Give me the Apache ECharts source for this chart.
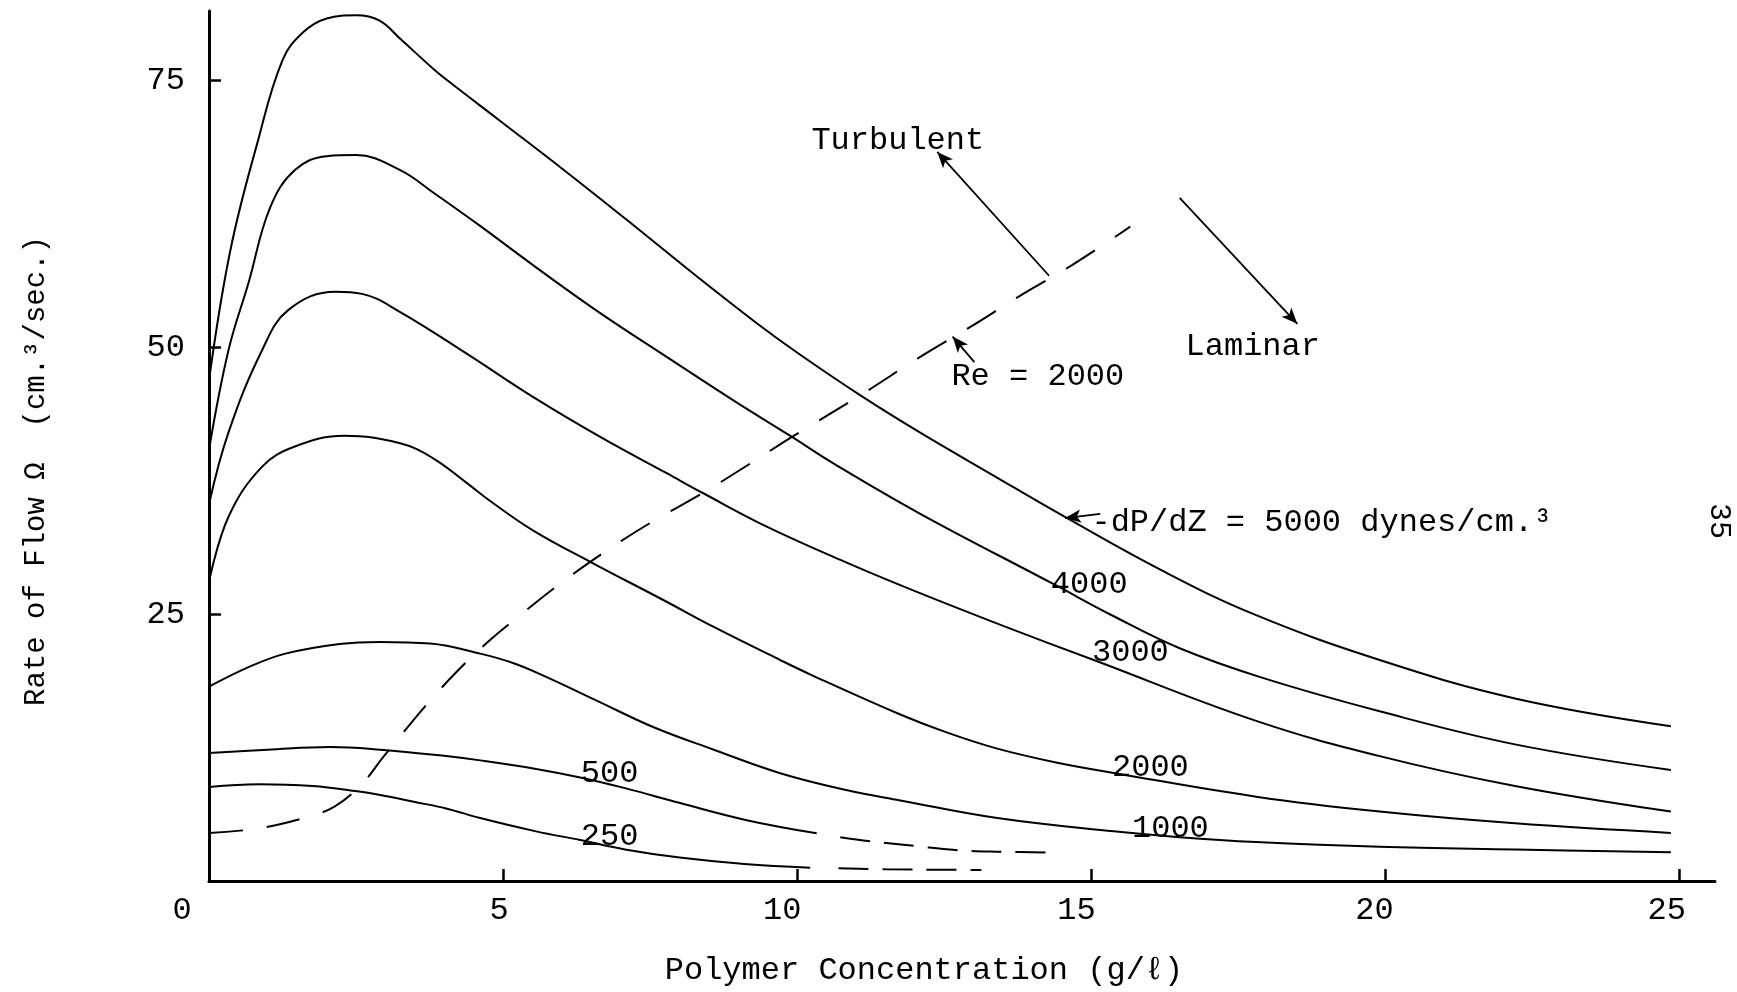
<!DOCTYPE html>
<html>
<head>
<meta charset="utf-8">
<script src="https://cdn.jsdelivr.net/npm/echarts@6/dist/echarts.min.js"></script>
<style>
html,body{margin:0;padding:0;background:#fff;}
#c{width:1737px;height:992px;}
</style>
</head>
<body>
<div id="c"></div>
<script>
// ---- data (x = polymer concentration g/l, y = rate of flow cm3/sec) ----
const q5000 = [[0,46.9],[0.36,59],[0.82,69.1],[1.25,76.9],[1.6,79.5],[2.0,80.8],[2.5,81.1],[2.9,80.6],[3.25,78.9],[3.81,76.1],[4.1,74.8],[4.95,71.2],[6.08,66.4],[7.2,61.5],[8.3,56.6],[9.3,52.3],[10.05,49.3],[11.1,45.4],[12.09,42.0],[13.3,38.1],[14.52,34.2],[16.23,29.0],[17.8,24.9],[19.9,20.7],[22.2,17.1],[24.85,14.5]];
const q4000 = [[0,40.4],[0.33,49.7],[0.67,56],[1.04,63.1],[1.46,66.6],[2.0,67.9],[2.5,68.0],[3.25,66.6],[3.81,64.5],[4.55,61.6],[5.63,57.2],[6.65,53.2],[7.78,49.1],[8.92,45.0],[9.91,41.6],[10.62,39.1],[12.09,34.4],[14.36,27.8],[15.38,24.8],[16.5,21.8],[17.87,19.1],[19.9,15.9],[22.2,12.8],[24.85,10.4]];
const q3000 = [[0,35.3],[0.33,42],[0.9,49.7],[1.35,53.5],[2.15,55.2],[2.6,55.0],[3.25,53.3],[4.38,49.4],[5.52,45.3],[6.65,41.6],[7.78,38.2],[8.41,36.3],[9.48,33.2],[10.85,29.8],[11.98,27.2],[13.5,23.9],[15.04,20.7],[17.8,15.0],[19.9,11.7],[22.2,8.9],[24.85,6.5]];
const q2000 = [[0,28.0],[0.33,34.1],[0.9,38.8],[1.46,40.7],[2.3,41.7],[3.25,41.0],[3.81,39.6],[4.38,37.3],[4.78,35.6],[5.52,32.8],[6.48,29.9],[7.73,26.3],[8.58,23.8],[9.71,20.7],[10.28,19.2],[11.75,15.6],[12.55,13.9],[13.4,12.4],[14.4,11.1],[15.4,10.1],[17.8,7.9],[19.9,6.5],[22.2,5.4],[24.85,4.5]];
const q1000 = [[0,18.2],[0.7,20.1],[1.3,21.3],[2.22,22.2],[2.91,22.4],[3.76,22.25],[4.61,21.3],[5.18,20.4],[5.74,19.1],[6.59,16.9],[7.56,14.4],[8.58,12.3],[9.71,10.1],[10.85,8.5],[11.75,7.55],[13.4,5.9],[15.38,4.65],[16.5,4.1],[17.8,3.65],[19.9,3.2],[22.2,2.95],[24.85,2.7]];
const q500 = [[0,12.0],[1.0,12.3],[2.06,12.55],[2.91,12.3],[4.03,11.7],[4.61,11.3],[5.56,10.5],[6.31,9.7],[7.07,8.7],[8.01,7.3],[9.14,5.7],[10.33,4.47]];
const q250 = [[0,8.8],[0.85,9.07],[1.76,8.9],[2.52,8.4],[2.91,8.05],[3.5,7.4],[4.03,6.8],[4.61,5.9],[5.56,4.65],[6.31,3.84],[7.07,2.96],[8.0,2.2],[9.1,1.6],[10.22,1.25]];
const reLine = [[0,4.5],[0.8,4.9],[1.61,5.9],[2.14,7.0],[2.6,9.1],[2.96,11.6],[3.36,14.3],[3.76,16.9],[4.21,19.6],[4.72,22.3],[5.29,24.9],[5.86,27.4],[6.48,29.9],[7.05,32.0],[7.61,33.9],[8.41,36.4],[9.14,38.9],[9.91,41.6],[11.1,45.6],[12.09,49.1],[13.0,52.1],[13.75,54.7],[14.67,57.7],[15.66,61.3]];
const lowDashA = [[10.73,4.1],[11.27,3.7],[12.0,3.28],[12.69,2.9],[13.52,2.74],[14.31,2.65]];
const lowDashB = [[10.7,1.19],[11.5,1.1],[12.5,1.05],[13.13,1.03]];

const xTickValues = [5,10,15,20,25];
const xLabelValues = [0,5,10,15,20,25];
const yTickValues = [25,50,75];

// curve labels and annotations: [text, x, y]
const curveLabels = [['4000',14.31,27.8],['3000',15.01,21.4],['2000',15.35,10.6],['1000',15.69,4.9],['500',6.32,10.1],['250',6.32,4.15]];
const noteLabels = [['Turbulent',10.24,69.4],['Laminar',16.6,50.1],['Re = 2000',12.62,47.3],['-dP/dZ = 5000 dynes/cm.\u00B3',15.0,33.6]];
// arrows: [x1,y1,x2,y2,curveness] (head at second point)
const arrows = [[14.28,56.7,12.38,68.3,0],[16.5,64.0,18.5,52.2,0],[13.01,48.6,12.64,51.0,0],[15.15,34.4,14.55,34.0,0.35]];

const FONT = "'Liberation Mono', 'DejaVu Sans Mono', monospace";
const chart = echarts.init(document.getElementById('c'), null, {renderer:'canvas'});

function solid(name, data) {
  return {name, type:'line', data, smooth:0.4, symbol:'none', showSymbol:false, silent:true,
    lineStyle:{color:'#000', width:2}, z:3};
}
function dashed(name, data, pattern) {
  return {name, type:'line', data, smooth:0.4, symbol:'none', showSymbol:false, silent:true,
    lineStyle:{color:'#000', width:2, type:pattern}, z:3};
}
const xShift = {0:27, 5:4, 10:15, 15:15, 20:11, 25:13};
const xRich = {};
xLabelValues.forEach(v => { xRich['a'+v] = {fontFamily:FONT, fontSize:32, color:'#000', padding:[0, 2*xShift[v], 0, 0]}; });

const s5000 = solid('5000', q5000);
s5000.markLine = {
  silent:true, symbol:['none','arrow'], symbolSize:[10,16], animation:false,
  label:{show:false}, lineStyle:{color:'#000', width:1.8, type:'solid'},
  data: arrows.map(a => [{coord:[a[0],a[1]], lineStyle:{curveness:a[4]}}, {coord:[a[2],a[3]]}])
};

chart.setOption({
  animation:false,
  backgroundColor:'#fff',
  grid:{left:209, right:22, top:11, bottom:111},
  xAxis:{
    type:'value', min:0, max:25.6, interval:5,
    axisLine:{show:true, lineStyle:{color:'#000', width:3}},
    axisTick:{show:true, inside:true, length:12, lineStyle:{color:'#000', width:2.5}, customValues:xTickValues},
    axisLabel:{show:true, margin:14, customValues:xLabelValues, fontFamily:FONT, fontSize:32, color:'#000',
      formatter: v => '{a'+v+'|'+v+'}', rich:xRich},
    splitLine:{show:false},
    name:'Polymer Concentration (g/\u2113)', nameLocation:'middle', nameGap:74,
    nameTextStyle:{fontFamily:FONT, fontSize:32, color:'#000', padding:[0,76,0,0]}
  },
  yAxis:{
    type:'value', min:0, max:81.5, interval:25,
    axisLine:{show:true, lineStyle:{color:'#000', width:3}},
    axisTick:{show:true, inside:true, length:12, lineStyle:{color:'#000', width:2.5}, customValues:yTickValues},
    axisLabel:{show:true, margin:24, customValues:yTickValues, fontFamily:FONT, fontSize:32, color:'#000', padding:[8,0,0,0]},
    splitLine:{show:false},
    name:'Rate of Flow \u03A9  (cm.\u00B3/sec.)', nameLocation:'middle', nameGap:158, nameRotate:90,
    nameTextStyle:{fontFamily:FONT, fontSize:29, color:'#000', padding:[0,50,0,0]}
  },
  series:[
    s5000, solid('4000', q4000), solid('3000', q3000), solid('2000', q2000),
    solid('1000', q1000), solid('500', q500), solid('250', q250),
    dashed('Re = 2000', reLine, [34,24]),
    dashed('lowA', lowDashA, [30,14]),
    dashed('lowB', lowDashB, [30,14])
  ]
});

function toPx(x, y) { return chart.convertToPixel({gridIndex:0}, [x, y]); }
const graphics = [];
curveLabels.concat(noteLabels).forEach(l => {
  const p = toPx(l[1], l[2]);
  graphics.push({type:'text', x:p[0], y:p[1], silent:true, z:10,
    style:{text:l[0], fontFamily:FONT, fontSize:32, fill:'#000', align:'left', verticalAlign:'middle'}});
});
graphics.push({type:'text', x:1719, y:521, rotation:-Math.PI/2, silent:true,
  style:{text:'35', fontFamily:FONT, fontSize:30, fill:'#000', align:'center', verticalAlign:'middle'}});
chart.setOption({graphic:graphics});
</script>
</body>
</html>
